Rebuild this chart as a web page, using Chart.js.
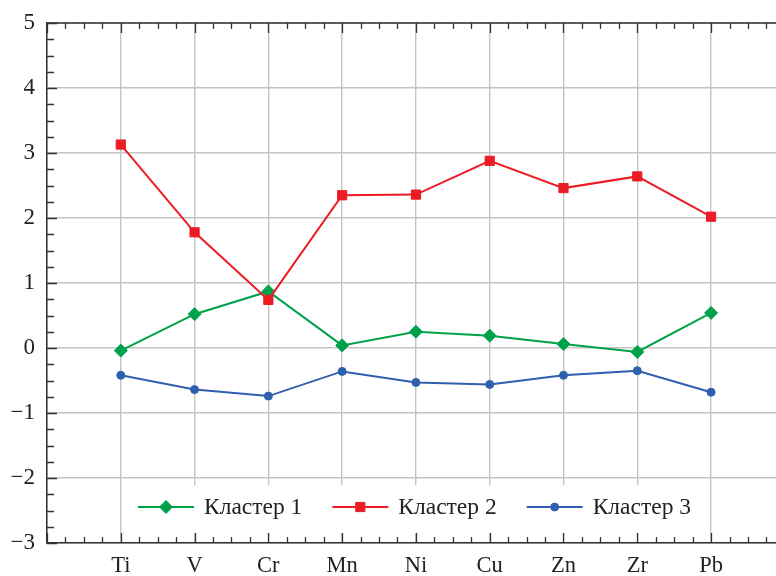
<!DOCTYPE html>
<html>
<head>
<meta charset="utf-8">
<script src="https://cdn.jsdelivr.net/npm/chart.js@4/dist/chart.umd.min.js"></script>
<style>
    html, body { margin: 0; padding: 0; background: #fff; overflow: hidden; }
    #wrap { width: 776px; height: 576px; }
    canvas { display: block; }
</style>
</head>
<body>
<div id="wrap"><canvas id="chart" width="776" height="576"></canvas></div>
<script>
// Data
const elements = ['Ti', 'V', 'Cr', 'Mn', 'Ni', 'Cu', 'Zn', 'Zr', 'Pb'];
const seriesLabels = ['Кластер 1', 'Кластер 2', 'Кластер 3'];
const cluster1 = [-0.04, 0.52, 0.87, 0.04, 0.25, 0.19, 0.06, -0.06, 0.54];
const cluster2 = [3.13, 1.78, 0.74, 2.35, 2.36, 2.88, 2.46, 2.64, 2.02];
const cluster3 = [-0.42, -0.64, -0.74, -0.36, -0.53, -0.56, -0.42, -0.35, -0.68];
const yMin = -3;
const yMax = 5;

const FONT = '"Liberation Serif", "Times New Roman", serif';
const TEXT = '#222';
const AXIS = '#333';
const GRID = '#c4c4c4';

function toPoints(values) {
    return values.map((v, i) => ({ x: i, y: v }));
}

// no extra room around the axes: the frame is fixed by the layout padding
function noPadding(s) {
    s.paddingLeft = s.paddingRight = s.paddingTop = s.paddingBottom = 0;
}

/**
 * Inward major/minor ticks on left, bottom and top edges, plus the top frame line
 */
const frameTicks = {
    id: 'frameTicks',
    afterDraw(chart) {
        const { ctx, chartArea, scales } = chart;
        const xs = scales.x, ys = scales.y;
        ctx.save();
        ctx.strokeStyle = AXIS;
        ctx.lineWidth = 1.5;

        // top frame line
        ctx.beginPath();
        ctx.moveTo(chartArea.left, chartArea.top);
        ctx.lineTo(chartArea.right, chartArea.top);
        ctx.stroke();

        ctx.lineWidth = 1.3;
        ctx.beginPath();
        for (let v = xs.min; v <= xs.max + 1e-9; v += 0.25) {
            const px = Math.round(xs.getPixelForValue(v)) + 0.5;
            const len = Number.isInteger(v) ? 10 : 6;
            ctx.moveTo(px, chartArea.bottom);
            ctx.lineTo(px, chartArea.bottom - len);
            ctx.moveTo(px, chartArea.top);
            ctx.lineTo(px, chartArea.top + len);
        }
        for (let v = ys.min; v <= ys.max + 1e-9; v += 0.25) {
            const py = Math.round(ys.getPixelForValue(v)) + 0.5;
            const len = Number.isInteger(v) ? 10 : 7;
            ctx.moveTo(chartArea.left, py);
            ctx.lineTo(chartArea.left + len, py);
        }
        ctx.stroke();
        ctx.restore();
    }
};

/**
 * Legend drawn inside the plot, on a white box, near the bottom
 */
const boxLegend = {
    id: 'boxLegend',
    afterDatasetsDraw(chart) {
        const { ctx, chartArea } = chart;
        const lineLen = 56, gapText = 10, gapItem = 30;
        ctx.save();
        ctx.font = '23.5px ' + FONT;
        const items = chart.data.datasets.map(ds => ({ ds, w: ctx.measureText(ds.label).width }));
        const total = items.reduce((s, it) => s + lineLen + gapText + it.w, 0) + gapItem * (items.length - 1);
        let x = (chartArea.left + chartArea.right) / 2 - total / 2 + 3;
        const y = chartArea.bottom - 36;

        ctx.fillStyle = '#fff';
        ctx.fillRect(x - 14, y - 22, total + 28, 48);

        items.forEach(it => {
            const ds = it.ds;
            ctx.strokeStyle = ds.borderColor;
            ctx.lineWidth = ds.borderWidth;
            ctx.beginPath();
            ctx.moveTo(x, y);
            ctx.lineTo(x + lineLen, y);
            ctx.stroke();

            ctx.fillStyle = ds.pointBackgroundColor;
            ctx.strokeStyle = ds.pointBorderColor;
            ctx.lineWidth = 1;
            Chart.helpers.drawPoint(ctx, {
                pointStyle: ds.pointStyle,
                radius: ds.pointRadius,
                rotation: 0,
                borderWidth: 1
            }, x + lineLen / 2, y);

            ctx.fillStyle = TEXT;
            ctx.textAlign = 'left';
            ctx.textBaseline = 'middle';
            ctx.fillText(ds.label, x + lineLen + gapText, y + 1);
            x += lineLen + gapText + it.w + gapItem;
        });
        ctx.restore();
    }
};

function series(label, values, color, style, radius, order) {
    return {
        label: label,
        data: toPoints(values),
        borderColor: color,
        backgroundColor: color,
        pointBackgroundColor: color,
        pointBorderColor: color,
        borderWidth: 2,
        pointStyle: style,
        pointRadius: radius,
        pointHoverRadius: radius,
        pointBorderWidth: 1,
        tension: 0,
        order: order
    };
}

const ctx = document.getElementById('chart').getContext('2d');
new Chart(ctx, {
    type: 'line',
    data: {
        datasets: [
            series(seriesLabels[0], cluster1, '#00a14b', 'rectRot', 6.5, 1),
            series(seriesLabels[1], cluster2, '#ec1c24', 'rect', 6.5, 0),
            series(seriesLabels[2], cluster3, '#2f5fae', 'circle', 4, 2)
        ]
    },
    options: {
        responsive: false,
        animation: false,
        devicePixelRatio: 1,
        layout: { autoPadding: false, padding: { top: 23, right: 0, left: 0, bottom: 0 } },
        plugins: {
            legend: { display: false },
            tooltip: { enabled: false }
        },
        scales: {
            x: {
                type: 'linear',
                min: -1,
                max: 8.88,
                // one blank slot before Ti, then one tick per element
                afterBuildTicks: s => { s.ticks = [-1].concat(elements.map((e, i) => i)).map(v => ({ value: v })); },
                afterFit: s => {
                    s.height = 33;
                    noPadding(s);
                },
                ticks: {
                    autoSkip: false,
                    maxRotation: 0,
                    padding: 10,
                    color: TEXT,
                    font: { family: FONT, size: 22.5 },
                    callback: v => (v >= 0 && elements[v] !== undefined) ? elements[v] : ''
                },
                grid: { color: GRID, lineWidth: 1.4, drawTicks: false },
                border: { color: AXIS, width: 1.5 }
            },
            y: {
                min: yMin,
                max: yMax,
                afterFit: s => {
                    s.width = 47;
                    noPadding(s);
                },
                ticks: {
                    stepSize: 1,
                    padding: 12,
                    color: TEXT,
                    font: { family: FONT, size: 23 },
                    callback: v => v < 0 ? '\u2212' + Math.abs(v) : String(v)
                },
                grid: { color: GRID, lineWidth: 1.4, drawTicks: false },
                border: { color: AXIS, width: 1.5 }
            }
        }
    },
    plugins: [boxLegend, frameTicks]
});
</script>
</body>
</html>
